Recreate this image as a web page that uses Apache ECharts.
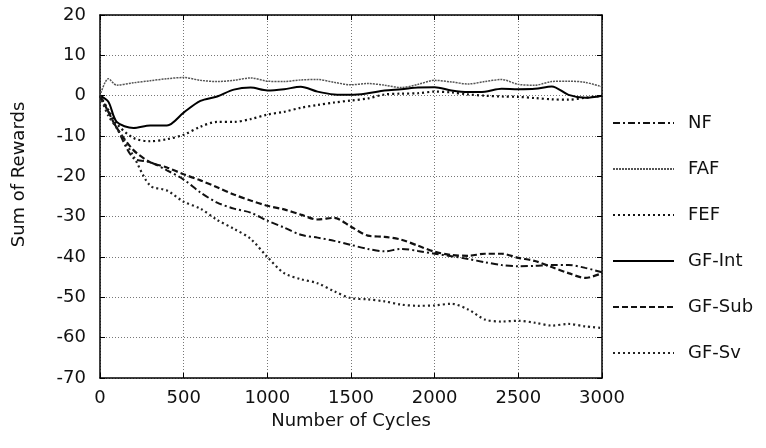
<!DOCTYPE html>
<html>
<head>
<meta charset="utf-8">
<script src="https://cdn.jsdelivr.net/npm/echarts@6/dist/echarts.min.js"></script>
<style>html,body{margin:0;padding:0;background:#fff;}#c{width:766px;height:448px;}</style>
</head>
<body>
<div id="c"></div>
<script>
var cycles = [0,50,100,200,300,400,500,600,700,800,900,1000,1100,1200,1300,1400,1500,1600,1700,1800,1900,2000,2100,2200,2300,2400,2500,2600,2700,2800,2900,3000];
var seriesNames = ['NF','FAF','FEF','GF-Int','GF-Sub','GF-Sv'];
var nfValues    = [0,-4,-8,-15.5,-16.5,-18.5,-20.8,-24,-26.5,-28,-29,-31,-32.7,-34.5,-35.2,-36,-37,-38,-38.6,-38,-38.5,-39.2,-39.8,-40.5,-41.3,-42,-42.3,-42.2,-42,-42,-42.7,-43.8];
var fafValues   = [0,4.2,2.6,3.2,3.7,4.2,4.5,3.8,3.5,3.8,4.4,3.6,3.5,3.9,4.0,3.3,2.7,3.0,2.6,2.0,2.8,3.8,3.4,2.9,3.5,4.0,2.8,2.6,3.5,3.6,3.3,2.2];
var fefValues   = [0,-3.5,-7,-10.5,-11.3,-10.8,-9.7,-7.7,-6.5,-6.5,-5.8,-4.7,-4,-3,-2.3,-1.7,-1.2,-0.7,0.3,0.5,0.6,1.0,0.8,0.3,0,-0.2,-0.3,-0.6,-0.9,-1.0,-0.5,0];
var gfIntValues = [0,-1.5,-6.5,-8,-7.4,-7.4,-4.2,-1.3,-0.2,1.5,2,1.3,1.6,2.2,1,0.3,0.2,0.6,1.3,1.6,2,2.1,1.3,0.9,1,1.7,1.6,1.7,2.3,0.2,-0.5,0];
var gfSubValues = [0,-4,-8,-13.5,-16.5,-17.8,-19.5,-21,-22.7,-24.5,-26,-27.3,-28.2,-29.5,-30.7,-30.3,-32.5,-34.7,-35,-35.7,-37.2,-38.7,-39.5,-39.7,-39.2,-39.2,-40.2,-41,-42.5,-44,-45.2,-44];
var gfSvValues  = [0,-5,-8,-15,-22.3,-23.5,-26.3,-28,-30.8,-33,-35.5,-40,-44,-45.5,-46.5,-48.5,-50.2,-50.5,-51,-51.8,-52.1,-52,-51.6,-53,-55.5,-56,-55.8,-56.3,-57,-56.6,-57.2,-57.6];
var xTicks = [0,500,1000,1500,2000,2500,3000];
var yTicks = [-70,-60,-50,-40,-30,-20,-10,0,10,20];

function pairs(v){ return cycles.map(function(c,i){ return [c, v[i]]; }); }

var font = 'DejaVu Sans, Liberation Sans, Arial, sans-serif';
var chart = echarts.init(document.getElementById('c'));
var styles = [
  {type:[7,3,2,3], width:2, color:'#111'},
  {type:[2,1], width:1.5, color:'#555'},
  {type:[2,3], width:2.2, color:'#111'},
  {type:'solid', width:2, color:'#000'},
  {type:[6,3], width:2.2, color:'#111'},
  {type:[2,3], width:2.2, color:'#222'}
];
var vals = [nfValues,fafValues,fefValues,gfIntValues,gfSubValues,gfSvValues];
var series = seriesNames.map(function(n,i){
  return {
    name:n, type:'line', data:pairs(vals[i]), smooth:0.3, symbol:'none',
    lineStyle:styles[i], itemStyle:{color:styles[i].color}, animation:false
  };
});
var commonAxisLine = {show:true, onZero:false, lineStyle:{color:'#000', width:1.5}};
chart.setOption({
  backgroundColor:'#fff',
  animation:false,
  grid:{left:100, right:164, top:15, bottom:70},
  legend:{
    orient:'vertical', left:607, top:108, itemWidth:61, itemHeight:14, itemGap:26,
    itemStyle:{opacity:0},
    textStyle:{fontFamily:font, fontSize:18, color:'#111', lineHeight:20, padding:[0,0,0,9]},
    data:seriesNames
  },
  xAxis:[{
    type:'value', min:0, max:3000, interval:500,
    name:'Number of Cycles', nameLocation:'middle', nameGap:32,
    nameTextStyle:{fontFamily:font, fontSize:18, color:'#111'},
    axisLine:commonAxisLine, axisTick:{inside:true, length:5, lineStyle:{color:'#000'}},
    axisLabel:{fontFamily:font, fontSize:18, color:'#111', margin:11,
      formatter:function(v){ return xTicks.indexOf(v)>=0 ? String(v) : ''; }},
    splitLine:{show:true, lineStyle:{type:[1,2], color:'#777', width:1}}
  },{
    type:'value', min:0, max:3000, interval:500, position:'top',
    axisLine:commonAxisLine, axisTick:{inside:true, length:5, lineStyle:{color:'#000'}},
    axisLabel:{show:false}, splitLine:{show:false}
  }],
  yAxis:[{
    type:'value', min:-70, max:20, interval:10,
    name:'Sum of Rewards', nameLocation:'middle', nameGap:72,
    nameTextStyle:{fontFamily:font, fontSize:18, color:'#111', padding:[0,0,0,44]},
    axisLine:commonAxisLine, axisTick:{inside:true, length:5, lineStyle:{color:'#000'}},
    axisLabel:{fontFamily:font, fontSize:18, color:'#111', margin:14,
      formatter:function(v){ return yTicks.indexOf(v)>=0 ? String(v) : ''; }},
    splitLine:{show:true, lineStyle:{type:[1,2], color:'#777', width:1}}
  },{
    type:'value', min:-70, max:20, interval:10, position:'right',
    axisLine:commonAxisLine, axisTick:{inside:true, length:5, lineStyle:{color:'#000'}},
    axisLabel:{show:false}, splitLine:{show:false}
  }],
  series:series
});
</script>
</body>
</html>
